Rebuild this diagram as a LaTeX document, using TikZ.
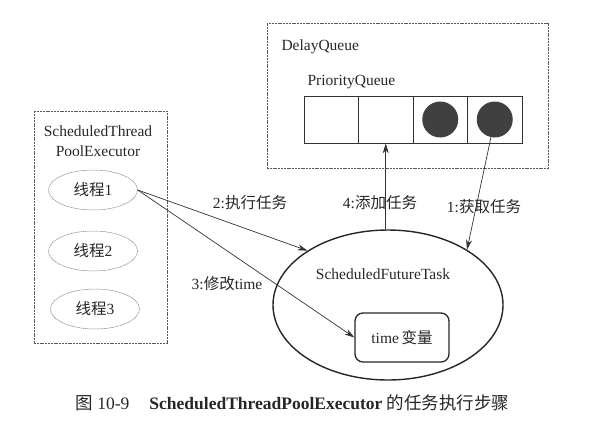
\documentclass[tikz,border=0pt]{standalone}
\usepackage{fontspec}
\setmainfont{Liberation Serif}
\newfontfamily\cjk{Noto Sans CJK SC}
\newcommand{\zh}[1]{{\cjk #1}}
\usetikzlibrary{arrows.meta,shapes.geometric}
\tikzset{
  outerbox/.style={draw=black!65,line width=0.8pt,dash pattern=on 2pt off 0.8pt,inner sep=0pt},
  cell/.style={draw=black!80,line width=0.8pt,minimum width=54.5pt,minimum height=47pt,inner sep=0pt},
  ball/.style={circle,fill=black!75,minimum size=36pt,inner sep=0pt},
  thread/.style={ellipse,draw=black!50,line width=0.5pt,dash pattern=on 1.5pt off 0.6pt,minimum width=89pt,minimum height=40pt,inner sep=0pt},
  arr/.style={-{Stealth[length=10pt,width=6pt]},draw=black!80,line width=0.7pt}
}
\begin{document}
\begin{tikzpicture}[x=1pt,y=-1pt,font=\fontsize{15.5}{18}\selectfont,text=black!85]
      \useasboundingbox (0,0) rectangle (612,426);
      % delay queue
      \node[outerbox,minimum width=281pt,minimum height=145pt] (dq) at (407.5,95.5) {};
      \node[anchor=west] (dqlabel) at (278,47) {DelayQueue};
      \node[anchor=west] (pqlabel) at (304,82) {PriorityQueue};
      \foreach \i in {1,...,4}
        \node[cell] (cell\i) at ({276.75+54.5*\i},119.5) {};
      \node[ball] (c3) at (cell3) {};
      \node[ball] (c4) at (cell4) {};
      % executor
      \node[outerbox,minimum width=133pt,minimum height=232pt] (pool) at (100.5,227) {};
      \node[align=center] (poollabel) at (98,141) {ScheduledThread\\[2pt]PoolExecutor};
      \node[thread] (t1) at (93,190) {\zh{线程}1};
      \node[thread] (t2) at (93,251) {\zh{线程}2};
      \node[thread] (t3) at (95,309) {\zh{线程}3};
      % task
      \node[ellipse,draw=black!85,line width=1.4pt,minimum width=230pt,minimum height=150pt] (task) at (388,305) {};
      \node (tasklabel) at (383,274) {ScheduledFutureTask};
      \node[draw=black!85,line width=1.3pt,rounded corners=8pt,minimum width=94pt,minimum height=49pt] (time) at (402,337.5) {time\,\zh{变量}};
      \begin{scope}[arr]
        \draw (t1.east) to (task.146);
        \draw (t1.east) to (time.west);
        \draw (task.north -| cell2) to (cell2.south);
        \draw (c4) to (task.35);
      \end{scope}
      \node (l2) at (250,203) {2:\zh{执行任务}};
      \node (l3) at (227,284) {3:\zh{修改}time};
      \node (l4) at (380,203) {4:\zh{添加任务}};
      \node (l1) at (484,207) {1:\zh{获取任务}};
      % caption
      \node[anchor=west,font=\fontsize{17.5}{20}\selectfont] (caption) at (72,403)
        {\zh{图} 10-9\hspace{20pt}\textbf{ScheduledThreadPoolExecutor} \zh{的任务执行步骤}};
    \end{tikzpicture}
\end{document}
